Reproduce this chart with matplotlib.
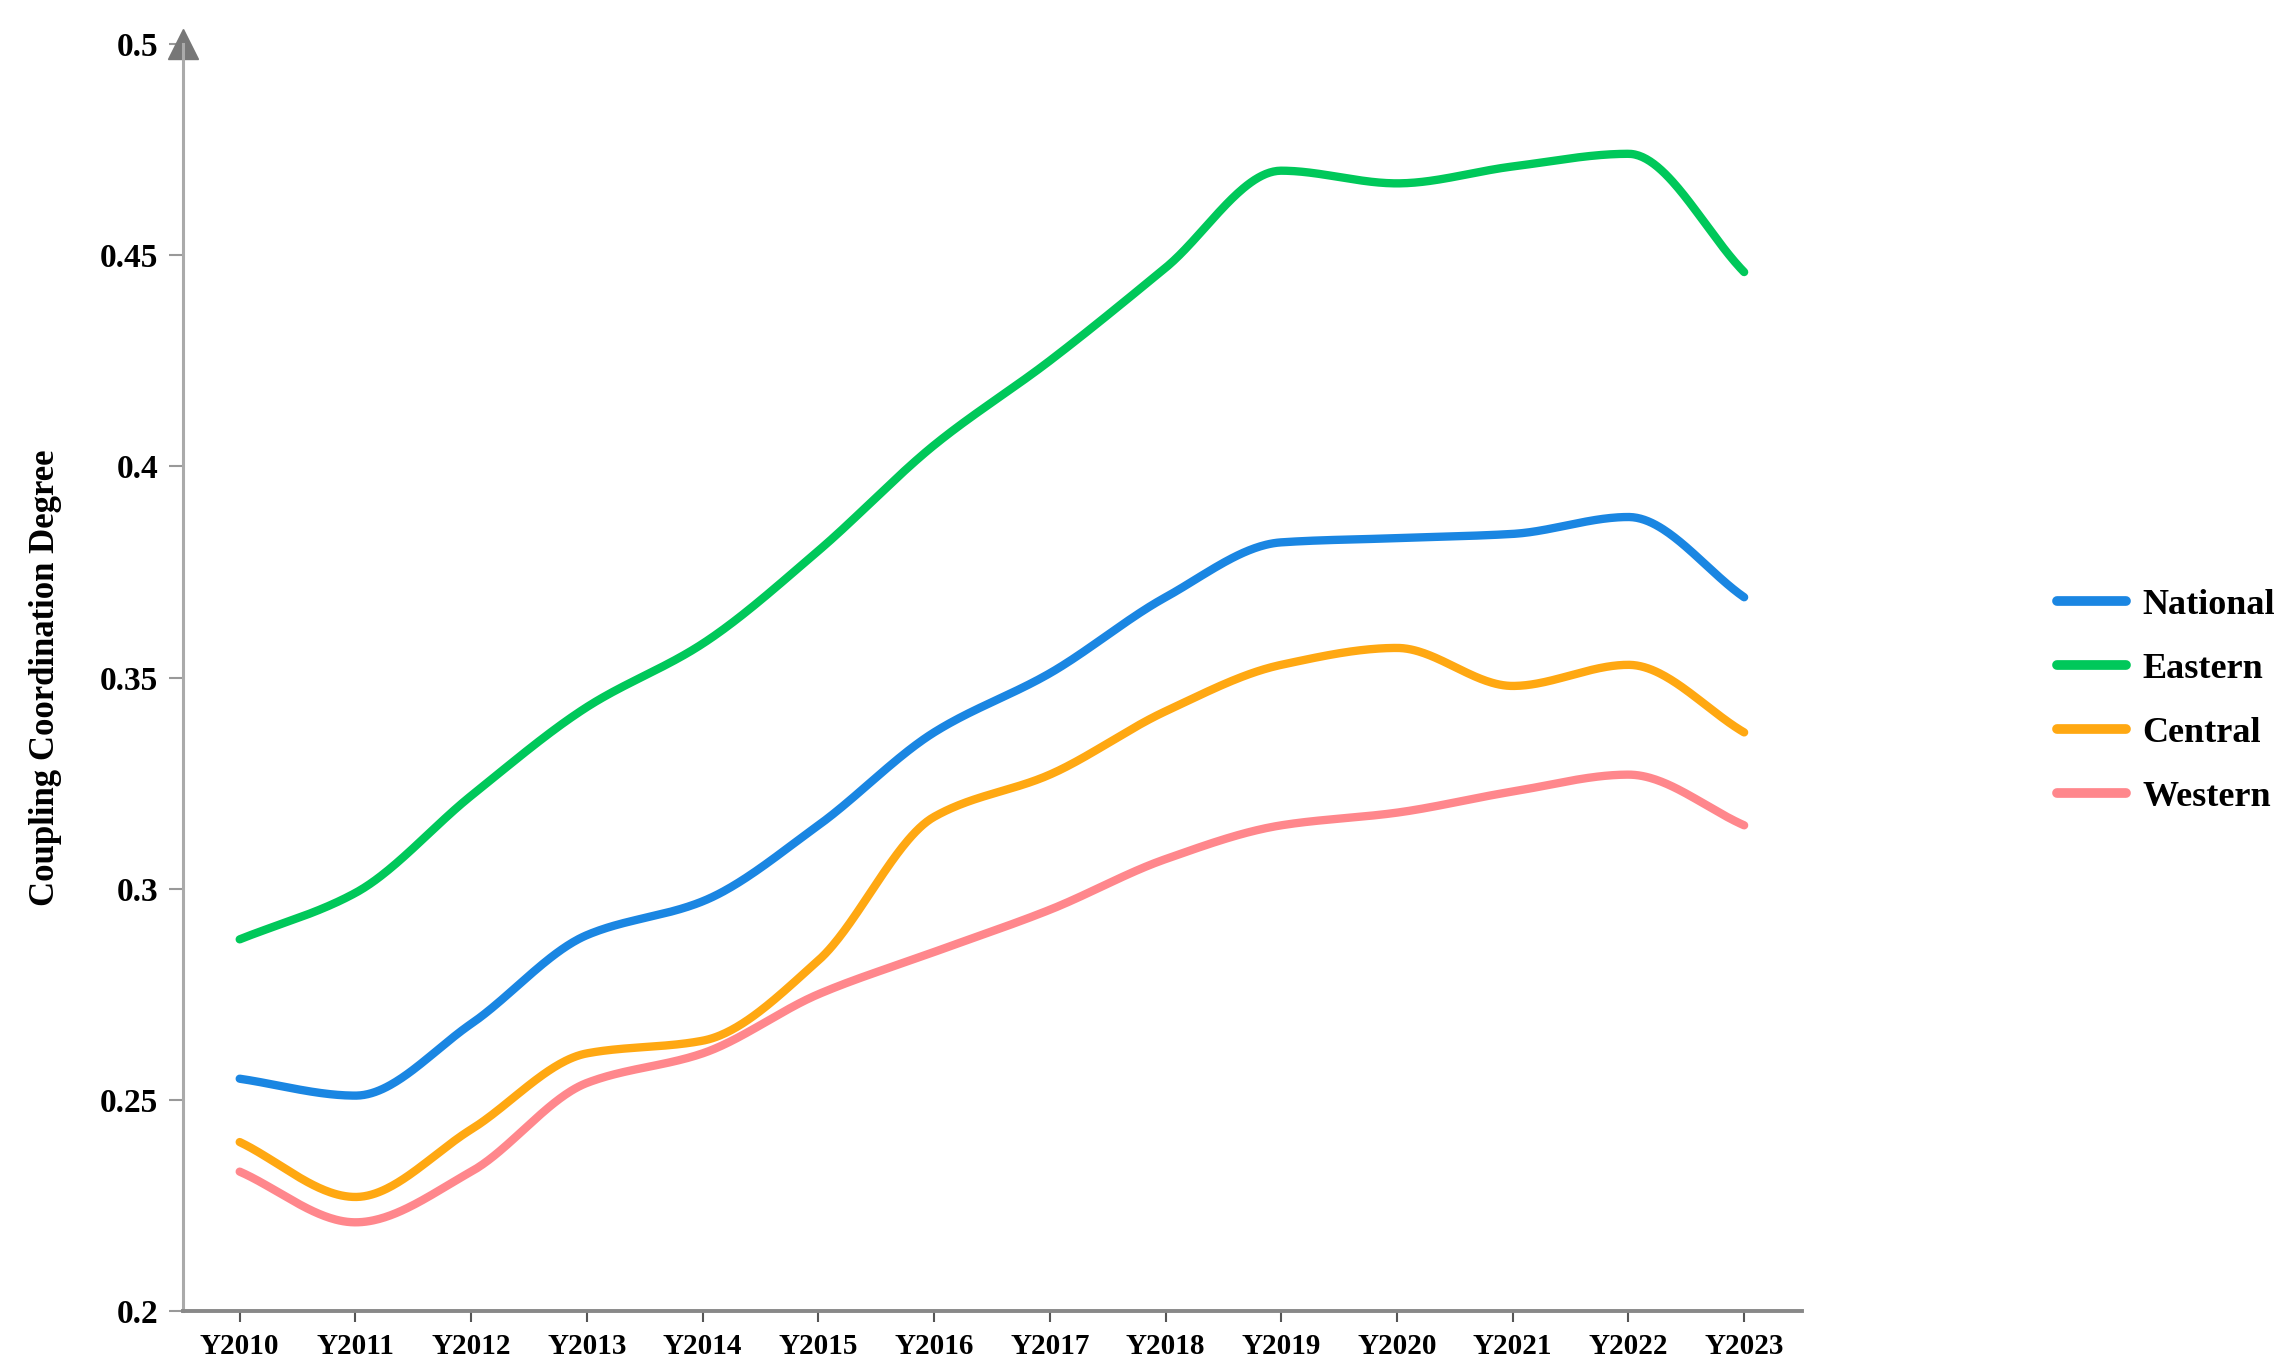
import numpy as np
import matplotlib
matplotlib.use('Agg')
from matplotlib import pyplot as plt

plt.rcParams['font.family'] = ['Liberation Serif', 'DejaVu Serif']
plt.rcParams['font.weight'] = 'bold'

years = ['Y2010', 'Y2011', 'Y2012', 'Y2013', 'Y2014', 'Y2015', 'Y2016',
         'Y2017', 'Y2018', 'Y2019', 'Y2020', 'Y2021', 'Y2022', 'Y2023']
national = [0.255, 0.251, 0.268, 0.289, 0.297, 0.315, 0.337,
            0.351, 0.369, 0.382, 0.383, 0.384, 0.388, 0.369]
eastern = [0.288, 0.299, 0.322, 0.343, 0.358, 0.380, 0.405,
           0.425, 0.447, 0.470, 0.467, 0.471, 0.474, 0.446]
central = [0.240, 0.227, 0.243, 0.261, 0.264, 0.283, 0.317,
           0.327, 0.342, 0.353, 0.357, 0.348, 0.353, 0.337]
western = [0.233, 0.221, 0.233, 0.254, 0.261, 0.275, 0.285,
           0.295, 0.307, 0.315, 0.318, 0.323, 0.327, 0.315]

series = [('National', national, '#1a86e2'),
          ('Eastern', eastern, '#00c85a'),
          ('Central', central, '#ffa812'),
          ('Western', western, '#ff878c')]


def monotone(x, y, xs):
    # monotone cubic hermite (like d3 curveMonotoneX)
    x = np.asarray(x, float)
    y = np.asarray(y, float)
    h = np.diff(x)
    d = np.diff(y) / h
    m = np.zeros_like(y)
    m[0], m[-1] = d[0], d[-1]
    for i in range(1, len(y) - 1):
        if d[i - 1] * d[i] <= 0:
            m[i] = 0
        else:
            m[i] = 2 / (1 / d[i - 1] + 1 / d[i])
    idx = np.clip(np.searchsorted(x, xs) - 1, 0, len(x) - 2)
    t = (xs - x[idx]) / h[idx]
    h00 = 2 * t**3 - 3 * t**2 + 1
    h10 = t**3 - 2 * t**2 + t
    h01 = -2 * t**3 + 3 * t**2
    h11 = t**3 - t**2
    return (h00 * y[idx] + h10 * h[idx] * m[idx] + h01 * y[idx + 1]
            + h11 * h[idx] * m[idx + 1])


fig = plt.figure(figsize=(22.92, 13.72), dpi=100)
ax = fig.add_axes([183 / 2292, 1 - 1311 / 1372, (1802 - 183) / 2292, (1311 - 44) / 1372])

x = np.arange(len(years))
xs = np.linspace(0, len(years) - 1, 800)
for name, vals, col in series:
    ax.plot(xs, monotone(x, vals, xs), color=col, lw=6,
            solid_capstyle='round', label=name)

ax.set_xlim(-0.49, len(years) - 0.5)
ax.set_ylim(0.2, 0.5)
ax.set_xticks(x)
ax.set_xticklabels(years)
ax.set_yticks([0.2, 0.25, 0.3, 0.35, 0.4, 0.45, 0.5])
ax.set_yticklabels(['0.2', '0.25', '0.3', '0.35', '0.4', '0.45', '0.5'])

for s in ['top', 'right']:
    ax.spines[s].set_visible(False)
ax.spines['left'].set_color('#aaaaaa')
ax.spines['left'].set_linewidth(2.2)
ax.spines['bottom'].set_color('#888888')
ax.spines['bottom'].set_linewidth(2.8)
ax.tick_params(axis='y', length=10, width=1.5, color='#999999', pad=8, labelsize=24)
ax.tick_params(axis='x', length=8, width=1.5, color='#555555', pad=8, labelsize=21)

# arrow on top of the y axis
ax.plot([0], [1.0], marker='^', markersize=22, color='#777777',
        transform=ax.transAxes, clip_on=False)

ax.set_ylabel('Coupling Coordination Degree', fontsize=25, fontweight='bold')
ax.yaxis.set_label_coords(-0.075, 0.5)

leg = ax.legend(loc='center left', bbox_to_anchor=(2050 / 2292, 1 - 701 / 1372),
                bbox_transform=fig.transFigure, frameon=False, fontsize=26,
                handlelength=1.9, handletextpad=0.45, labelspacing=0.85,
                borderpad=0.2, borderaxespad=0)
for line in leg.get_lines():
    line.set_linewidth(7)
    line.set_solid_capstyle('round')

fig.savefig('out.png', dpi=100, facecolor='white')
